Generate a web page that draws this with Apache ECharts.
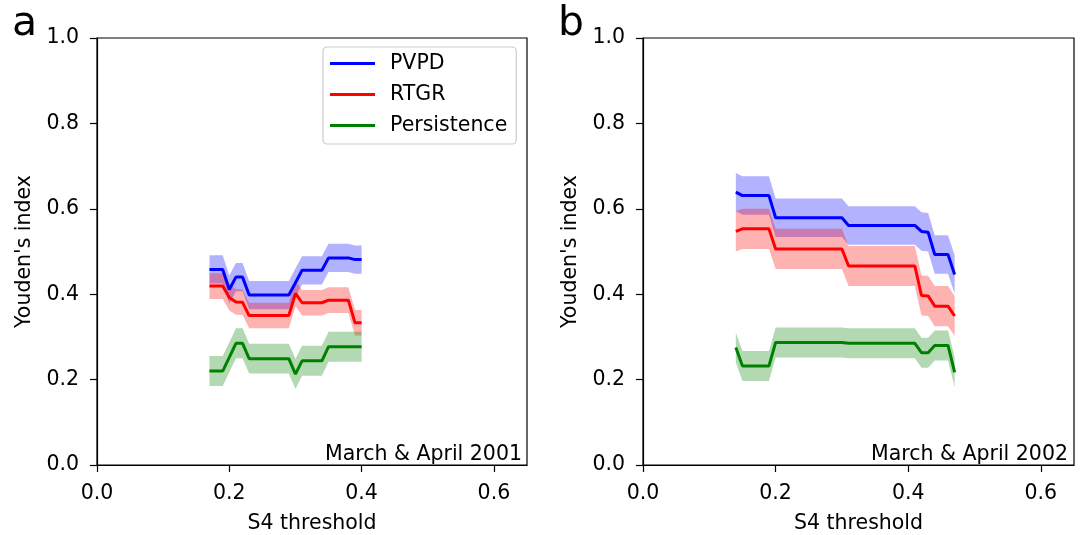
<!DOCTYPE html>
<html>
<head>
<meta charset="utf-8">
<script src="https://cdn.jsdelivr.net/npm/echarts@6/dist/echarts.min.js"></script>
<style>
  html, body { margin: 0; padding: 0; background: #fff; }
  #main { width: 1084px; height: 535px; }
</style>
</head>
<body>
<div id="main"></div>
<script>
// panel a: March & April 2001
var xA = [0.17,0.18,0.19,0.20,0.21,0.22,0.23,0.24,0.25,0.26,0.27,0.28,0.29,0.30,
          0.31,0.32,0.33,0.34,0.35,0.36,0.37,0.38,0.39,0.40];
var pvpdA = [0.458,0.458,0.458,0.411,0.440,0.440,0.398,0.398,0.398,0.398,0.398,0.398,0.398,0.427,
             0.456,0.456,0.456,0.456,0.485,0.485,0.485,0.485,0.481,0.481];
var rtgrA = [0.419,0.419,0.419,0.392,0.382,0.381,0.350,0.350,0.350,0.350,0.350,0.350,0.350,0.402,
             0.380,0.380,0.380,0.380,0.386,0.386,0.386,0.386,0.333,0.333];
var persA = [0.220,0.220,0.220,0.252,0.285,0.285,0.249,0.249,0.249,0.249,0.249,0.249,0.249,0.213,
             0.244,0.244,0.244,0.244,0.277,0.277,0.277,0.277,0.277,0.277];
// half width of the shaded bands: PVPD, RTGR, Persistence
var bandA = [0.033, 0.030, 0.035];

// panel b: March & April 2002
var xB = [0.14,0.15,0.16,0.17,0.18,0.19,0.20,0.21,0.22,0.23,0.24,0.25,0.26,0.27,0.28,0.29,0.30,
          0.31,0.32,0.33,0.34,0.35,0.36,0.37,0.38,0.39,0.40,0.41,0.42,0.43,0.44,0.45,0.46,0.47];
var pvpdB = [0.639,0.631,0.631,0.631,0.631,0.631,0.579,0.579,0.579,0.579,0.579,0.579,0.579,0.579,0.579,0.579,0.579,
             0.561,0.561,0.561,0.561,0.561,0.561,0.561,0.561,0.561,0.561,0.561,0.547,0.545,0.493,0.493,0.493,0.446];
var rtgrB = [0.547,0.553,0.553,0.553,0.553,0.553,0.506,0.506,0.506,0.506,0.506,0.506,0.506,0.506,0.506,0.506,0.506,
             0.466,0.466,0.466,0.466,0.466,0.466,0.466,0.466,0.466,0.466,0.466,0.397,0.396,0.372,0.372,0.372,0.349];
var persB = [0.275,0.232,0.232,0.232,0.232,0.232,0.287,0.287,0.287,0.287,0.287,0.287,0.287,0.287,0.287,0.287,0.287,
             0.285,0.285,0.285,0.285,0.285,0.285,0.285,0.285,0.285,0.285,0.285,0.263,0.263,0.280,0.280,0.280,0.217];
var bandB = [0.045, 0.047, 0.035];

var names = ['PVPD', 'RTGR', 'Persistence'];
var colors = ['#0000ff', '#ff0000', '#008000'];
var xTicks = [0, 0.2, 0.4, 0.6];

var FONT = 'DejaVu Sans';
var myChart = echarts.init(document.getElementById('main'), null, {renderer: 'canvas'});

function pairs(xs, ys) {
    var out = [];
    for (var i = 0; i < xs.length; i++) out.push([xs[i], ys[i]]);
    return out;
}

// shaded band: one polygon through lo points then hi points back
function bandSeries(panel, idx, xs, ys, hw) {
    var rows = [];
    for (var i = 0; i < xs.length; i++) rows.push([xs[i], ys[i] - hw, ys[i] + hw]);
    return {
        name: names[idx] + '_band_' + panel,
        type: 'custom', xAxisIndex: panel, yAxisIndex: panel,
        data: rows, silent: true, z: 1,
        encode: {x: 0, y: [1, 2]},
        renderItem: function (params, api) {
            if (params.dataIndexInside !== 0) return null;
            var pts = [];
            for (var k = 0; k < rows.length; k++) pts.push(api.coord([rows[k][0], rows[k][1]]));
            for (var k = rows.length - 1; k >= 0; k--) pts.push(api.coord([rows[k][0], rows[k][2]]));
            return {
                type: 'polygon',
                shape: {points: pts},
                style: {fill: colors[idx], opacity: 0.3, stroke: null}
            };
        }
    };
}

function lineSeries(panel, idx, xs, ys) {
    return {
        name: names[idx],
        type: 'line', xAxisIndex: panel, yAxisIndex: panel,
        data: pairs(xs, ys), symbol: 'none', color: colors[idx],
        lineStyle: {width: 3, color: colors[idx]}, z: 3
    };
}

var series = [];
[[pvpdA, rtgrA, persA], [pvpdB, rtgrB, persB]].forEach(function (set, p) {
    var xs = p === 0 ? xA : xB;
    var bw = p === 0 ? bandA : bandB;
    set.forEach(function (ys, i) { series.push(bandSeries(p, i, xs, ys, bw[i])); });
});
[[pvpdA, rtgrA, persA], [pvpdB, rtgrB, persB]].forEach(function (set, p) {
    var xs = p === 0 ? xA : xB;
    set.forEach(function (ys, i) { series.push(lineSeries(p, i, xs, ys)); });
});

function xAxis(i) {
    return {
        type: 'value', gridIndex: i, min: 0, max: 0.65,
        name: 'S4 threshold', nameLocation: 'middle', nameGap: 48,
        nameTextStyle: {fontFamily: FONT, fontSize: 20.5, color: '#000'},
        axisLine: {show: true, lineStyle: {color: '#000', width: 1.2}},
        axisTick: {show: true, length: 7, lineStyle: {color: '#000', width: 1.2}, customValues: xTicks},
        axisLabel: {fontFamily: FONT, fontSize: 20.5, color: '#000', margin: 18, customValues: xTicks,
                    formatter: function (v) { return v.toFixed(1); }},
        splitLine: {show: false}
    };
}
function yAxis(i) {
    return {
        type: 'value', gridIndex: i, min: 0, max: 1, interval: 0.2,
        name: "Youden's index", nameLocation: 'middle', nameGap: 62,
        nameTextStyle: {fontFamily: FONT, fontSize: 20.5, color: '#000'},
        axisLine: {show: true, lineStyle: {color: '#000', width: 1.2}},
        axisTick: {show: true, length: 7, lineStyle: {color: '#000', width: 1.2}},
        axisLabel: {fontFamily: FONT, fontSize: 20.5, color: '#000', margin: 18,
                    formatter: function (v) { return v.toFixed(1); }},
        splitLine: {show: false}
    };
}

var option = {
    animation: false,
    backgroundColor: '#fff',
    grid: [
        {left: 97, top: 38, width: 430, height: 427, show: true, borderColor: '#000', borderWidth: 1.2,
         backgroundColor: 'transparent', containLabel: false, outerBoundsMode: 'none'},
        {left: 643, top: 38, width: 431, height: 427, show: true, borderColor: '#000', borderWidth: 1.2,
         backgroundColor: 'transparent', containLabel: false, outerBoundsMode: 'none'}
    ],
    xAxis: [xAxis(0), xAxis(1)],
    yAxis: [yAxis(0), yAxis(1)],
    legend: {
        data: names,
        orient: 'vertical',
        left: 323, top: 47,
        icon: 'rect', itemWidth: 45, itemHeight: 3, itemGap: 10,
        padding: [6, 9, 8, 7],
        borderColor: '#cccccc', borderWidth: 1.2, borderRadius: 4,
        backgroundColor: 'rgba(255,255,255,0.8)',
        selectedMode: false,
        textStyle: {fontFamily: FONT, fontSize: 20.5, color: '#000', padding: [0, 0, 0, 10]}
    },
    graphic: [
        {type: 'text', left: 12, top: 4, style: {text: 'a', font: '41px "DejaVu Sans"', fill: '#000'}},
        {type: 'text', left: 558, top: 4, style: {text: 'b', font: '41px "DejaVu Sans"', fill: '#000'}},
        {type: 'text', x: 522, y: 465, style: {text: 'March & April 2001', font: '20.5px "DejaVu Sans"',
         fill: '#000', align: 'right', verticalAlign: 'bottom'}, z: 10},
        {type: 'text', x: 1068, y: 465, style: {text: 'March & April 2002', font: '20.5px "DejaVu Sans"',
         fill: '#000', align: 'right', verticalAlign: 'bottom'}, z: 10}
    ],
    series: series
};

myChart.setOption(option);
</script>
</body>
</html>
